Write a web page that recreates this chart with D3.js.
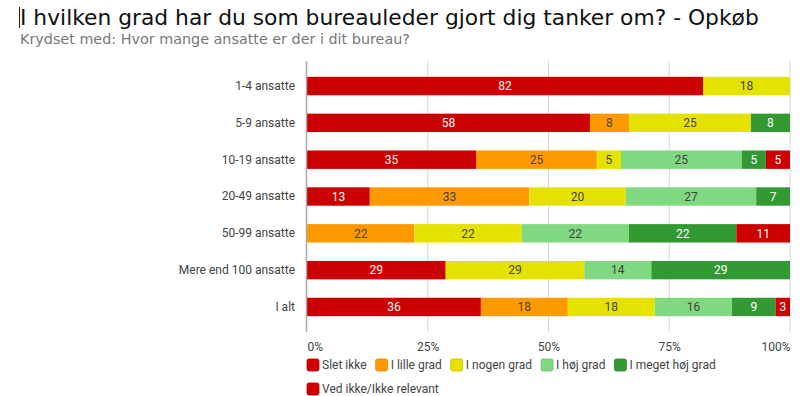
<!DOCTYPE html>
<html>
<head>
<meta charset="utf-8">
<script src="https://cdn.jsdelivr.net/npm/d3@7"></script>
<style>
  body { margin: 0; background: #fff; }
  svg { display: block; }
</style>
</head>
<body>
<div id="chart"></div>
<script>
// chart data
var categories = ["1-4 ansatte", "5-9 ansatte", "10-19 ansatte", "20-49 ansatte",
  "50-99 ansatte", "Mere end 100 ansatte", "I alt"];
var seriesNames = ["Slet ikke", "I lille grad", "I nogen grad", "I høj grad",
  "I meget høj grad", "Ved ikke/Ikke relevant"];
var sletIkke   = [82, 58, 35, 13, 0, 29, 36];
var lilleGrad  = [0, 8, 25, 33, 22, 0, 18];
var nogenGrad  = [18, 25, 5, 20, 22, 29, 18];
var hoejGrad   = [0, 0, 25, 27, 22, 14, 16];
var megetHoej  = [0, 8, 5, 7, 22, 29, 9];
var vedIkke    = [0, 0, 5, 0, 11, 0, 3];
var tickLabels = ["0%", "25%", "50%", "75%", "100%"];

var colors = ["#cc0000", "#ff9900", "#e6e200", "#80d880", "#339933", "#cc0000"];
var labelColors = ["#fff", "#444", "#444", "#444", "#fff", "#fff"];

var svgWidth = 803;
var svgHeight = 396;
var margin = { top: 61, right: 13, bottom: 64, left: 307 };
var width = svgWidth - margin.left - margin.right;
var height = svgHeight - margin.top - margin.bottom;

var svg = d3.select("#chart").append("svg")
  .attr("width", svgWidth)
  .attr("height", svgHeight);

// title + subtitle, sized to the width they take in the picture
function fitText(sel, targetWidth, startSize) {
  sel.style("font-size", startSize + "px");
  var w = sel.node().getComputedTextLength();
  sel.style("font-size", (startSize * targetWidth / w).toFixed(2) + "px");
}
var title = svg.append("text")
  .attr("x", 20).attr("y", 25)
  .style("font-family", "Verdana, 'DejaVu Sans', sans-serif")
  .attr("fill", "#111")
  .text("I hvilken grad har du som bureauleder gjort dig tanker om? - Opkøb");
fitText(title, 739, 20);

var subtitle = svg.append("text")
  .attr("x", 20).attr("y", 44)
  .style("font-family", "Verdana, 'DejaVu Sans', sans-serif")
  .attr("fill", "#777")
  .text("Krydset med: Hvor mange ansatte er der i dit bureau?");
fitText(subtitle, 390, 14);

// text cursor in front of the title
svg.append("line")
  .attr("x1", 19.5).attr("x2", 19.5)
  .attr("y1", 7).attr("y2", 28)
  .attr("stroke", "#222").attr("stroke-width", 1);

var chartGroup = svg.append("g")
  .attr("transform", `translate(${margin.left}, ${margin.top})`);

// build rows from the series arrays
var seriesArrays = [sletIkke, lilleGrad, nogenGrad, hoejGrad, megetHoej, vedIkke];
var rows = categories.map(function (c, i) {
  var row = { category: c };
  seriesNames.forEach(function (s, j) { row[s] = seriesArrays[j][i]; });
  return row;
});

var stack = d3.stack()
  .keys(seriesNames)
  .offset(d3.stackOffsetExpand);
var stacked = stack(rows);

var x = d3.scaleLinear().domain([0, 1]).range([0, width]);
var y = d3.scaleBand()
  .domain(categories)
  .range([0, height])
  .paddingInner(0.5)
  .paddingOuter(0.43);

// gridlines
chartGroup.append("g")
  .selectAll("line")
  .data([0.25, 0.5, 0.75, 1])
  .enter()
  .append("line")
  .attr("x1", d => x(d)).attr("x2", d => x(d))
  .attr("y1", 0).attr("y2", height)
  .attr("stroke", "#d6d6d6")
  .attr("stroke-width", 1);

// bars
var layers = chartGroup.selectAll(".layer")
  .data(stacked)
  .enter()
  .append("g")
  .attr("class", "layer");

layers.selectAll("rect")
  .data(function (d) { return d.map(function (p) { return { p: p, key: d.key, idx: d.index }; }); })
  .enter()
  .filter(d => d.p.data[d.key] > 0)
  .append("rect")
  .attr("x", d => x(d.p[0]))
  .attr("y", d => y(d.p.data.category))
  .attr("width", d => x(d.p[1]) - x(d.p[0]))
  .attr("height", y.bandwidth())
  .attr("fill", d => colors[d.idx]);

layers.selectAll("text")
  .data(function (d) { return d.map(function (p) { return { p: p, key: d.key, idx: d.index }; }); })
  .enter()
  .filter(d => d.p.data[d.key] > 0)
  .append("text")
  .attr("x", d => (x(d.p[0]) + x(d.p[1])) / 2)
  .attr("y", d => y(d.p.data.category) + y.bandwidth() / 2)
  .attr("dy", "0.36em")
  .attr("text-anchor", "middle")
  .style("font-family", "Roboto, sans-serif")
  .style("font-size", "12px")
  .attr("fill", d => labelColors[d.idx])
  .text(d => d.p.data[d.key]);

// baseline axis line
chartGroup.append("line")
  .attr("x1", -0.5).attr("x2", -0.5)
  .attr("y1", 0).attr("y2", height)
  .attr("stroke", "#aaa")
  .attr("stroke-width", 1.5);

// y axis labels
var leftAxis = d3.axisLeft(y).tickSize(0).tickPadding(12);
var yAxis = chartGroup.append("g").call(leftAxis);
yAxis.select(".domain").remove();
yAxis.selectAll("text")
  .style("font-family", "Roboto, sans-serif")
  .style("font-size", "12px")
  .attr("fill", "#444");

// x axis tick labels
var bottomAxis = d3.axisBottom(x)
  .tickValues([0, 0.25, 0.5, 0.75, 1])
  .tickFormat((d, i) => tickLabels[i])
  .tickSize(0)
  .tickPadding(10);
var xAxis = chartGroup.append("g")
  .attr("transform", `translate(0, ${height})`)
  .call(bottomAxis);
xAxis.select(".domain").remove();
xAxis.selectAll("text")
  .style("font-family", "Roboto, sans-serif")
  .style("font-size", "12px")
  .attr("fill", "#444")
  .attr("text-anchor", (d, i) => i == 0 ? "start" : (i == 4 ? "end" : "middle"));

// legend, wraps onto a second line like the original
var legend = svg.append("g");
var lx = 307, ly = 365, rowGap = 24, maxX = 790;
seriesNames.forEach(function (name, i) {
  var item = legend.append("g");
  var t = item.append("text")
    .attr("x", 15).attr("y", 0)
    .attr("dy", "0.35em")
    .style("font-family", "Roboto, sans-serif")
    .style("font-size", "12px")
    .attr("fill", "#444")
    .text(name);
  var w = 15 + t.node().getComputedTextLength();
  if (lx + w > maxX) { lx = 307; ly += rowGap; }
  item.append("rect")
    .attr("x", 0).attr("y", -6)
    .attr("width", 12).attr("height", 12)
    .attr("rx", 2)
    .attr("fill", colors[i])
    .attr("stroke", d3.color(colors[i]).darker(0.4))
    .attr("stroke-width", 0.8);
  item.attr("transform", `translate(${lx}, ${ly})`);
  lx += w + 9;
});
</script>
</body>
</html>
